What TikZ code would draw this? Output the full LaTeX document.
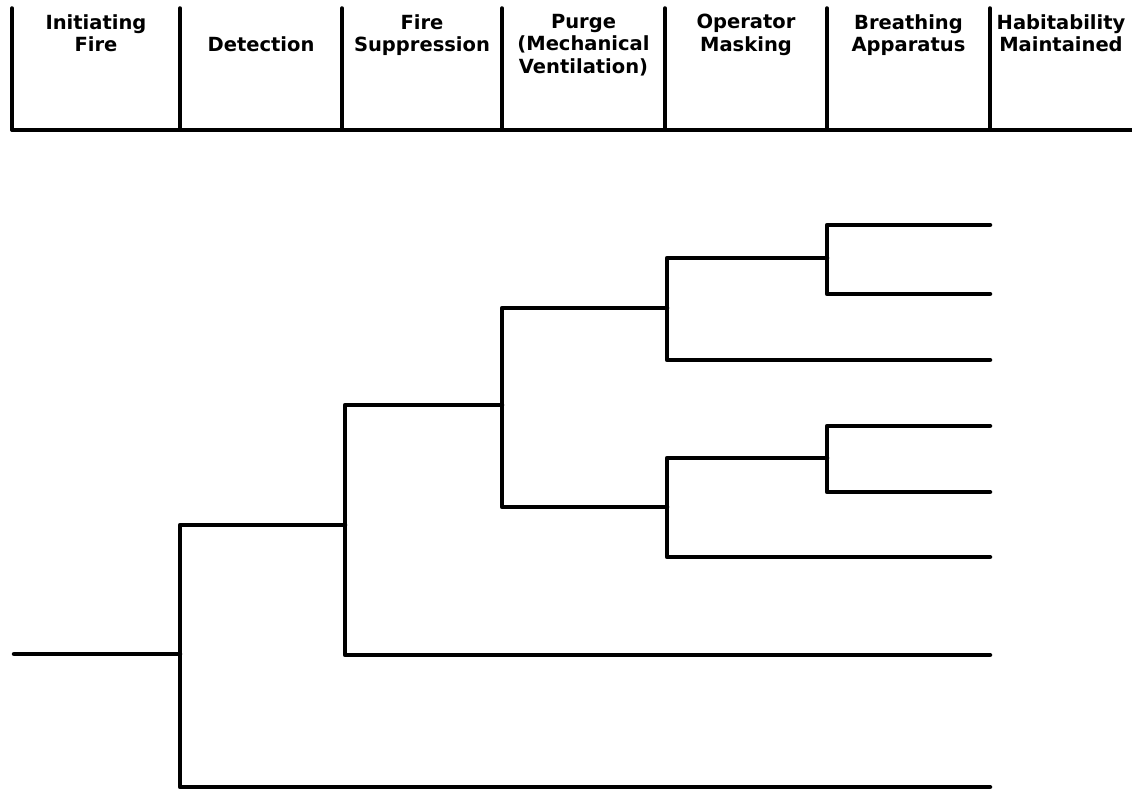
\documentclass[tikz,border=0pt]{standalone}
\usepackage{fontspec}
\setmainfont{DejaVu Sans}
\begin{document}
\begin{tikzpicture}[x=1pt,y=-1pt,
  rule/.style={line width=3.5pt,line cap=round,line join=round},
  branch/.style={line width=4.5pt,line cap=round,line join=round},
  heading/.style={anchor=north,inner sep=0pt,align=center,
    font=\bfseries\fontsize{19.5}{22.5}\selectfont}]
\useasboundingbox (0,0) rectangle (1132,792);

% column rules of the heading
\foreach \x in {12,180,342,502,665,827,990}
  \draw[rule] (\x,8) -- (\x,130);
\draw[rule] (12,130) -- (1132,130);

% column headings
\node[heading] (h1) at (96,14)    {Initiating\\Fire};
\node[heading] (h2) at (261,36)   {Detection};
\node[heading] (h3) at (422,14)   {Fire\\Suppression};
\node[heading] (h4) at (583.5,14) {Purge\\(Mechanical\\Ventilation)};
\node[heading] (h5) at (746,14)   {Operator\\Masking};
\node[heading] (h6) at (908.5,14) {Breathing\\Apparatus};
\node[heading] (h7) at (1061,14)  {Habitability\\Maintained};

% event tree: start, branch points and end states
\coordinate (s)  at (14,654);
\coordinate (j1) at (180,654);
\coordinate (j2) at (345,525);
\coordinate (j3) at (502,405);
\coordinate (j4) at (667,308);
\coordinate (j5) at (827,258);
\coordinate (j6) at (667,507);
\coordinate (j7) at (827,458);
\coordinate (e1) at (990,225);
\coordinate (e2) at (990,294);
\coordinate (e3) at (990,360);
\coordinate (e4) at (990,426);
\coordinate (e5) at (990,492);
\coordinate (e6) at (990,557);
\coordinate (e7) at (990,655);
\coordinate (e8) at (990,787);

\draw[branch] (s) -- (j1);
\draw[branch] (j1) |- (j2);
\draw[branch] (j1) |- (e8);
\draw[branch] (j2) |- (j3);
\draw[branch] (j2) |- (e7);
\draw[branch] (j3) |- (j4);
\draw[branch] (j3) |- (j6);
\draw[branch] (j4) |- (j5);
\draw[branch] (j4) |- (e3);
\draw[branch] (j5) |- (e1);
\draw[branch] (j5) |- (e2);
\draw[branch] (j6) |- (j7);
\draw[branch] (j6) |- (e6);
\draw[branch] (j7) |- (e4);
\draw[branch] (j7) |- (e5);
\end{tikzpicture}
\end{document}
